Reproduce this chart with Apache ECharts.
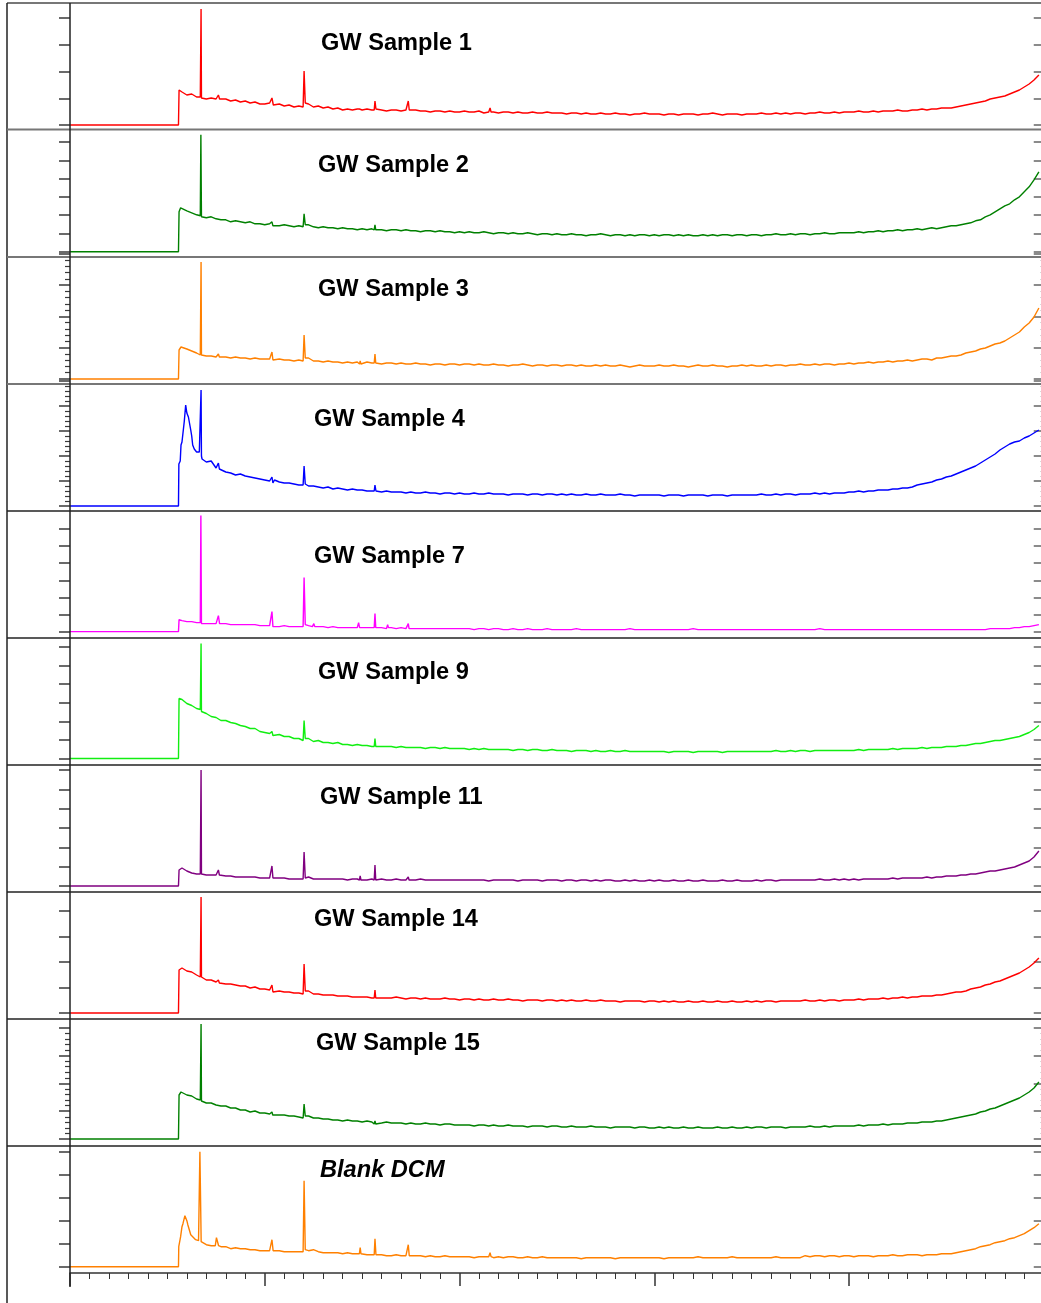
<!DOCTYPE html>
<html>
<head>
<meta charset="utf-8">
<script src="https://cdn.jsdelivr.net/npm/echarts@6/dist/echarts.min.js"></script>
<style>
  html, body { margin: 0; padding: 0; background: #ffffff; }
  #chart { width: 1041px; height: 1303px; }
</style>
</head>
<body>
<div id="chart"></div>
<script>
// GC-FID chromatograms, stacked one per sample. Retention time in minutes,
// abundance in detector units above each trace's own baseline.

const SAMPLE_NAMES = ['GW Sample 1', 'GW Sample 2', 'GW Sample 3', 'GW Sample 4', 'GW Sample 7',
  'GW Sample 9', 'GW Sample 11', 'GW Sample 14', 'GW Sample 15', 'Blank DCM'];

const TIME_MIN = 0, TIME_MAX = 50, TIME_MAJOR = 10;
// Baseline readings start at 5.75 min and are taken every 0.25 min up to 49.75 min.
const TIME_START = 5.75, TIME_STEP = 0.25;

// ---- GW Sample 1 ----
const s1Base = [
  33,30,31,28,27,26,27,26,25,26,24,25,23,24,22,23,21,
  21,22,20,21,19,20,18,19,18,21,18,19,17,18,16,17,15,16,15,16,
  15,16,15,16,15,14,15,15,14,15,14,15,14,14,13,14,14,13,14,13,
  13,14,13,13,14,12,13,13,12,13,13,12,13,12,12,13,12,12,13,12,
  12,12,11,12,12,11,12,11,11,12,11,11,12,11,11,10,11,11,12,11,
  11,11,10,11,11,10,11,11,11,10,11,11,12,11,10,11,11,11,10,11,
  11,11,12,11,11,12,11,12,11,12,12,11,12,12,13,12,12,13,12,13,
  13,13,14,13,13,14,13,14,14,14,15,14,14,15,15,16,15,16,16,17,
  17,17,18,19,20,21,22,23,24,26,27,28,29,31,33,35,38,41,45,50
];
const s1Peaks = [[0,0],[5.57,0],[5.6,35],[5.66,34],
  [6.69,28],[6.73,116],[6.77,27],[7.55,26],[7.62,30],[7.68,26],
  [10.31,21],[10.37,27],[10.44,20],[11.97,18],[12.02,54],[12.08,22],
  [14.86,16],[14.9,18],[14.94,16],[15.62,15],[15.66,24],[15.71,16],
  [17.33,15],[17.37,24],[17.42,15],[21.53,13],[21.57,17],[21.62,13]];

// ---- GW Sample 2 ----
const s2Base = [
  45,41,39,37,35,34,35,33,32,32,30,31,30,29,30,28,28,
  27,28,27,26,27,26,25,26,25,27,25,24,25,24,24,23,24,23,23,22,
  23,22,23,22,22,21,22,22,21,22,21,21,20,21,21,20,21,20,20,19,
  20,19,20,19,19,20,19,18,19,19,18,19,18,18,19,18,17,18,18,17,
  18,17,17,18,17,17,16,17,17,18,17,16,17,17,16,17,16,17,17,16,
  17,16,17,17,16,17,16,17,16,16,17,16,17,16,17,17,16,17,17,16,
  17,17,16,17,17,18,17,17,18,17,18,18,17,18,18,19,18,18,19,19,
  19,19,20,19,20,20,21,20,21,21,22,21,22,22,23,22,23,24,23,24,
  25,26,26,27,28,29,31,32,35,37,40,43,46,48,52,55,60,65,72,80
];
const s2Peaks = [[0,0],[5.57,0],[5.6,40],[5.68,44],
  [6.69,36],[6.72,117],[6.76,35],[10.33,27],[10.37,30],[10.42,26],
  [11.97,25],[12.02,38],[12.08,27],[15.62,22],[15.66,27],[15.7,22]];

// ---- GW Sample 3 ----
const s3Base = [
  32,30,28,26,24,23,23,22,22,22,21,22,21,21,20,21,20,
  20,20,19,20,19,19,18,19,18,21,18,18,17,18,17,17,16,17,16,17,
  16,17,16,16,15,16,16,15,16,15,15,16,15,15,14,15,15,14,15,15,
  14,15,15,14,15,14,14,15,14,14,13,14,14,15,14,13,14,14,13,14,
  14,13,14,14,13,14,13,13,14,13,14,13,13,14,13,12,13,14,13,13,
  13,14,13,13,14,13,13,12,13,14,13,13,14,13,13,12,13,13,14,13,
  14,13,13,14,13,14,14,13,14,14,15,14,14,15,14,15,15,14,15,15,
  16,15,16,16,17,16,17,17,18,17,18,18,19,18,19,20,20,19,21,21,
  22,23,23,24,26,27,28,30,31,33,35,36,38,41,44,47,52,56,62,71
];
const s3Peaks = [[0,0],[5.57,0],[5.6,29],[5.7,32],
  [6.69,24],[6.73,117],[6.77,23],[7.57,22],[7.62,25],[7.67,22],
  [10.32,20],[10.37,27],[10.42,19],[11.97,18],[12.02,44],[12.08,21],
  [14.87,15],[14.9,18],[14.94,15],[15.62,16],[15.66,25],[15.7,16]];

// ---- GW Sample 4 ----
const s4Base = [
  64,93,70,54,50,44,45,38,39,34,33,31,32,30,29,28,27,
  26,25,26,24,23,23,22,21,21,20,20,19,18,19,17,18,17,16,17,16,
  16,15,15,15,14,15,14,14,14,13,14,13,13,14,13,13,12,13,13,12,
  13,12,12,13,12,12,13,12,12,12,11,12,12,12,11,12,12,11,12,12,
  11,12,11,12,11,11,12,11,11,12,11,11,11,12,11,11,10,11,11,11,
  11,11,10,11,11,11,10,11,11,11,11,10,11,11,11,10,11,11,11,11,
  11,11,12,11,11,12,11,12,12,11,12,12,12,13,12,13,12,13,13,13,
  14,14,15,14,15,15,16,16,16,17,17,18,18,19,21,22,23,24,26,27,
  29,30,32,34,36,38,40,43,46,49,52,56,59,62,64,65,68,70,73,76
];
const s4Peaks = [[0,0],[5.57,0],[5.59,42],[5.66,45],[5.7,61],[5.8,66],
  [5.87,85],[5.94,101],[6.08,89],[6.2,76],[6.3,61],[6.38,57],[6.64,54],
  [6.7,54],[6.73,116],[6.78,47],[7.58,38],[7.62,43],[7.67,37],
  [10.32,24],[10.37,29],[10.42,23],[11.97,21],[12.02,40],[12.08,22],
  [15.62,15],[15.66,21],[15.71,15]];

// ---- GW Sample 7 ----
const s5Base = [
  11,10,10,9,8,8,8,8,8,8,7,7,7,7,7,7,6,
  6,6,6,5,6,5,5,5,5,6,5,5,5,4,5,4,4,4,4,4,
  4,4,4,4,4,3,4,3,4,3,3,3,4,3,3,3,3,3,3,3,
  3,3,3,2,3,3,2,3,3,2,2,3,2,2,3,2,2,2,3,2,
  2,2,2,2,3,2,2,2,2,2,2,2,2,2,2,3,2,2,2,2,
  2,2,2,2,2,2,2,2,3,2,2,2,2,2,2,2,2,2,2,2,
  2,2,2,2,2,2,2,2,2,2,2,2,2,2,3,2,2,2,2,2,
  2,2,2,2,2,2,2,2,2,2,2,2,2,2,2,2,2,2,2,2,
  2,2,2,2,2,2,2,2,2,3,3,3,3,3,4,4,5,5,6,7
];
const s5Peaks = [[0,0],[5.57,0],[5.6,12],
  [6.69,9],[6.72,116],[6.76,8],[7.56,8],[7.62,16],[7.68,8],
  [10.32,6],[10.37,20],[10.42,5],[11.97,5],[12.02,54],[12.08,7],
  [12.45,5],[12.52,8],[12.57,5],[14.77,4],[14.82,9],[14.87,4],
  [15.62,4],[15.66,18],[15.7,4],[16.27,4],[16.31,7],[16.35,4],
  [17.33,3],[17.37,8],[17.41,3],[17.98,3],[18.02,5],[18.06,3]];

// ---- GW Sample 9 ----
const s6Base = [
  59,55,53,50,47,45,42,41,38,38,36,35,33,32,30,30,27,
  26,25,24,24,22,22,20,20,18,20,17,18,16,16,15,16,14,14,13,14,
  13,13,12,13,12,12,12,11,12,11,11,11,11,10,11,11,10,11,10,10,
  10,10,9,10,9,10,9,9,9,9,9,8,9,9,8,9,9,8,8,9,
  8,8,8,7,8,8,8,7,8,7,7,8,7,7,8,7,7,7,7,7,
  7,7,7,6,7,7,7,7,6,7,7,7,7,7,6,7,7,7,7,7,
  7,7,7,7,7,8,7,7,8,7,8,8,7,8,8,8,8,8,8,8,
  8,8,9,8,9,9,9,9,9,10,9,10,10,10,10,11,10,11,11,11,
  12,12,12,13,13,14,15,15,16,17,18,18,19,20,21,22,24,26,29,33
];
const s6Peaks = [[0,0],[5.57,0],[5.6,60],
  [6.69,49],[6.73,115],[6.77,46],[10.32,24],[10.37,27],[10.42,23],
  [11.97,18],[12.02,38],[12.08,20],[15.62,12],[15.66,20],[15.7,12]];

// ---- GW Sample 11 ----
const s7Base = [
  18,15,13,12,12,11,11,11,10,10,10,9,9,9,9,9,8,
  8,8,8,8,8,7,7,7,7,9,7,7,7,7,7,7,7,6,7,7,
  7,6,7,6,7,6,6,7,6,6,6,6,7,6,6,6,6,6,6,6,
  6,6,6,6,6,6,5,6,6,6,6,6,5,6,6,6,6,5,6,6,
  6,5,6,6,5,6,6,5,6,5,6,6,5,5,6,5,6,5,5,6,
  5,6,5,5,6,5,5,6,5,5,6,5,5,5,6,5,5,6,5,5,
  5,6,5,6,6,5,6,6,6,6,6,6,6,6,7,6,6,7,6,7,
  6,7,6,7,7,7,7,7,7,8,7,8,8,8,8,8,9,8,9,9,
  10,10,10,11,11,12,12,13,14,15,15,16,17,18,19,21,23,25,29,35
];
const s7Peaks = [[0,0],[5.57,0],[5.6,16],
  [6.69,12],[6.73,116],[6.77,12],[7.57,11],[7.62,16],[7.67,11],
  [10.32,8],[10.37,20],[10.42,8],[11.97,7],[12.02,34],[12.08,8],
  [14.86,6],[14.9,10],[14.94,6],[15.62,6],[15.66,21],[15.7,6],
  [17.33,6],[17.37,9],[17.41,6]];

// ---- GW Sample 14 ----
const s8Base = [
  45,42,41,38,36,33,33,31,31,29,29,28,27,27,25,26,24,
  24,23,22,22,21,21,20,20,19,22,19,19,18,18,18,17,17,17,16,16,
  16,16,15,16,15,15,15,16,15,14,15,15,14,15,14,14,14,15,14,14,
  13,14,14,13,14,13,13,14,13,13,14,13,13,12,13,13,13,12,13,13,
  12,13,12,13,12,12,13,12,12,13,12,12,12,11,12,12,12,12,11,12,
  12,11,12,11,12,11,11,12,11,11,12,11,11,12,11,11,12,11,11,12,
  11,12,11,12,12,11,12,12,12,12,12,13,12,12,13,12,13,13,12,13,
  13,13,14,13,14,14,14,15,14,15,15,16,15,16,16,17,17,17,18,18,
  19,20,21,21,22,24,25,26,28,29,31,32,34,36,38,40,43,46,50,55
];
const s8Peaks = [[0,0],[5.57,0],[5.6,43],[5.68,45],
  [6.69,36],[6.73,116],[6.77,35],[7.57,31],[7.62,33],[7.67,30],
  [10.32,22],[10.37,28],[10.42,21],[11.97,19],[12.02,49],[12.08,22],
  [15.62,15],[15.66,23],[15.7,15]];

// ---- GW Sample 15 ----
const s9Base = [
  47,44,43,40,38,36,36,34,33,33,31,31,29,29,27,28,26,
  26,25,25,24,24,23,23,22,21,23,21,21,20,20,19,19,18,19,18,18,
  17,18,17,17,16,17,16,16,16,15,16,15,15,16,15,15,14,15,15,14,
  14,14,14,13,14,14,13,14,13,13,14,13,13,13,12,13,13,13,12,13,
  13,12,12,13,12,12,12,13,12,12,12,11,12,12,12,12,11,12,12,11,
  11,12,11,12,11,11,12,11,11,12,11,11,11,12,11,11,12,11,11,12,
  11,12,12,11,12,12,12,11,12,12,12,12,13,12,12,13,12,13,13,13,
  13,13,14,13,14,14,14,15,14,15,15,15,16,16,16,17,17,17,18,18,
  19,20,21,22,23,24,25,27,28,30,31,33,35,37,39,41,44,47,51,57
];
const s9Peaks = [[0,0],[5.57,0],[5.6,44],[5.7,47],
  [6.69,39],[6.73,115],[6.77,37],[10.33,24],[10.37,27],[10.41,24],
  [11.97,21],[12.02,35],[12.08,23],[15.62,15],[15.66,18],[15.7,15]];

// ---- Blank DCM ----
const s10Base = [
  40,46,31,26,25,22,21,23,20,20,18,19,18,18,17,17,16,
  16,16,15,16,15,15,15,15,15,16,17,15,14,14,14,14,13,14,13,13,
  13,12,12,12,12,11,11,12,11,11,11,11,11,10,11,10,10,11,10,10,
  10,10,10,9,10,10,10,9,10,9,10,10,9,9,10,9,9,10,9,9,
  9,9,9,9,9,8,9,9,9,9,9,9,8,9,9,9,9,9,9,9,
  9,9,8,9,9,9,9,9,9,10,9,9,9,9,9,9,10,9,9,9,
  9,9,9,9,9,10,9,9,9,9,9,11,10,11,11,10,11,11,10,11,
  11,10,11,11,11,10,11,11,11,12,11,11,12,12,12,11,12,12,12,13,
  13,13,14,15,16,17,18,20,21,22,24,25,26,28,29,31,33,36,39,43
];
const s10Peaks = [[0,0],[5.57,0],[5.585,20],[5.68,30],[5.8,43],[5.9,51],
  [6.05,42],[6.2,32],[6.45,27],[6.6,26],[6.655,27],[6.67,115],[6.72,115],[6.735,25],
  [7.46,21],[7.52,29],[7.58,28],[7.63,21],[10.32,16],[10.37,27],[10.43,16],
  [11.97,15],[12.02,86],[12.08,17],[14.86,13],[14.9,19],[14.94,13],
  [15.62,12],[15.66,28],[15.71,12],[17.33,11],[17.37,22],[17.42,11],
  [21.53,10],[21.57,14],[21.62,10]];

const BASES = [s1Base, s2Base, s3Base, s4Base, s5Base, s6Base, s7Base, s8Base, s9Base, s10Base];
const PEAKS = [s1Peaks, s2Peaks, s3Peaks, s4Peaks, s5Peaks, s6Peaks, s7Peaks, s8Peaks, s9Peaks, s10Peaks];

// ---- layout & styling ----
const COLORS = ['#ff0000', '#008000', '#ff8000', '#0000ff', '#ff00ff',
  '#11ee11', '#800080', '#ff0000', '#008000', '#ff8000'];
// per panel: baseline y (px), abundance step between y ticks, tick count, minor ticks
const PANELS = [
  { base: 125,    step: 26.7, n: 4, minor: false },
  { base: 251.8,  step: 18.3, n: 6, minor: false },
  { base: 379,    step: 31.3, n: 4, minor: true  },
  { base: 506,    step: 25,   n: 5, minor: true  },
  { base: 631.6,  step: 17.1, n: 6, minor: false },
  { base: 758.5,  step: 18.6, n: 6, minor: false },
  { base: 886,    step: 19.3, n: 6, minor: false },
  { base: 1013,   step: 25.5, n: 4, minor: false },
  { base: 1139,   step: 27.8, n: 4, minor: true  },
  { base: 1266.7, step: 23,   n: 5, minor: false }
];
const LABEL_POS = [[321, 43], [318, 165], [318, 289], [314, 419], [314, 556],
  [318, 672], [320, 797.5], [314, 919], [316, 1043], [320, 1170]];
const SEPARATORS = [129.5, 257, 384, 511, 638, 765, 892, 1019, 1146];
const TIME_AXIS_Y = 1273;

const PLOT_LEFT = 70, PLOT_WIDTH = 973.75, CANVAS_H = 1303;

function buildTrace(base, peaks) {
  const pts = base.map((v, i) => [TIME_START + i * TIME_STEP, v]);
  return pts.concat(peaks).sort((a, b) => a[0] - b[0]);
}

const grid = [], xAxis = [], yAxis = [], series = [];
PANELS.forEach((p, i) => {
  const span = p.n * p.step;
  grid.push({ left: PLOT_LEFT, width: PLOT_WIDTH, top: p.base - span, height: span,
    containLabel: false, outerBoundsMode: 'none' });
  xAxis.push({ gridIndex: i, type: 'value', min: TIME_MIN, max: TIME_MAX, interval: TIME_MAJOR, show: false });
  const yCommon = {
    gridIndex: i, type: 'value', min: 0, max: span, interval: p.step,
    axisLine: { show: false }, axisLabel: { show: false },
    splitLine: { show: false }, minorSplitLine: { show: false }
  };
  yAxis.push(Object.assign({}, yCommon, {
    position: 'left',
    axisTick: { show: true, inside: false, length: 11, lineStyle: { color: '#3a3a3a', width: 1.5 } },
    minorTick: { show: p.minor, splitNumber: 5, length: 5, lineStyle: { color: '#3a3a3a', width: 1.2 } }
  }));
  yAxis.push(Object.assign({}, yCommon, {
    position: 'right',
    axisTick: { show: true, inside: true, length: 10, lineStyle: { color: '#666', width: 1.5 } },
    minorTick: { show: p.minor, splitNumber: 5, length: 3, lineStyle: { color: '#666', width: 1 } }
  }));
  series.push({
    name: SAMPLE_NAMES[i], type: 'line', xAxisIndex: i, yAxisIndex: 2 * i,
    data: buildTrace(BASES[i], PEAKS[i]),
    showSymbol: false, symbol: 'none', clip: false, silent: true,
    lineStyle: { color: COLORS[i], width: 1.4 }
  });
});

// shared retention-time axis under the last trace
const axisGrid = grid.length;
grid.push({ left: PLOT_LEFT, width: PLOT_WIDTH, top: TIME_AXIS_Y - 4, height: 4,
  containLabel: false, outerBoundsMode: 'none' });
xAxis.push({
  gridIndex: axisGrid, type: 'value', min: TIME_MIN, max: TIME_MAX, interval: TIME_MAJOR,
  position: 'bottom',
  axisLine: { show: true, lineStyle: { color: '#333', width: 1.5 } },
  axisTick: { show: true, inside: false, length: 13, lineStyle: { color: '#333', width: 1.5 } },
  minorTick: { show: true, splitNumber: 10, length: 6, lineStyle: { color: '#333', width: 1 } },
  axisLabel: { show: false }, splitLine: { show: false }, minorSplitLine: { show: false }
});
yAxis.push({ gridIndex: axisGrid, type: 'value', min: 0, max: 1, show: false });

const graphic = [];
// outer frame and panel separators
graphic.push({ type: 'line', shape: { x1: 7, y1: 3, x2: 1041, y2: 3 }, style: { stroke: '#777', lineWidth: 2 }, z: 10 });
graphic.push({ type: 'line', shape: { x1: 7, y1: 3, x2: 7, y2: CANVAS_H }, style: { stroke: '#222', lineWidth: 1.5 }, z: 10 });
SEPARATORS.forEach((y, k) => {
  graphic.push({ type: 'line', shape: { x1: 7, y1: y, x2: 1041, y2: y },
    style: { stroke: k < 3 ? '#777' : '#222', lineWidth: k < 3 ? 2 : 1.5 }, z: 10 });
});
// shared abundance axis line
graphic.push({ type: 'line', shape: { x1: PLOT_LEFT, y1: 3, x2: PLOT_LEFT, y2: 1287 }, style: { stroke: '#222', lineWidth: 1.5 }, z: 10 });
// sample names
SAMPLE_NAMES.forEach((name, i) => {
  const italic = name === 'Blank DCM';
  graphic.push({
    type: 'text', x: LABEL_POS[i][0], y: LABEL_POS[i][1], z: 20,
    style: {
      text: name, fill: '#000',
      font: (italic ? 'italic ' : '') + 'bold 23.6px "Liberation Sans", Arial, sans-serif',
      align: 'left', verticalAlign: 'middle'
    }
  });
});

const chart = echarts.init(document.getElementById('chart'), null, { renderer: 'canvas' });
chart.setOption({
  animation: false,
  backgroundColor: '#ffffff',
  grid, xAxis, yAxis, series, graphic
});
</script>
</body>
</html>
